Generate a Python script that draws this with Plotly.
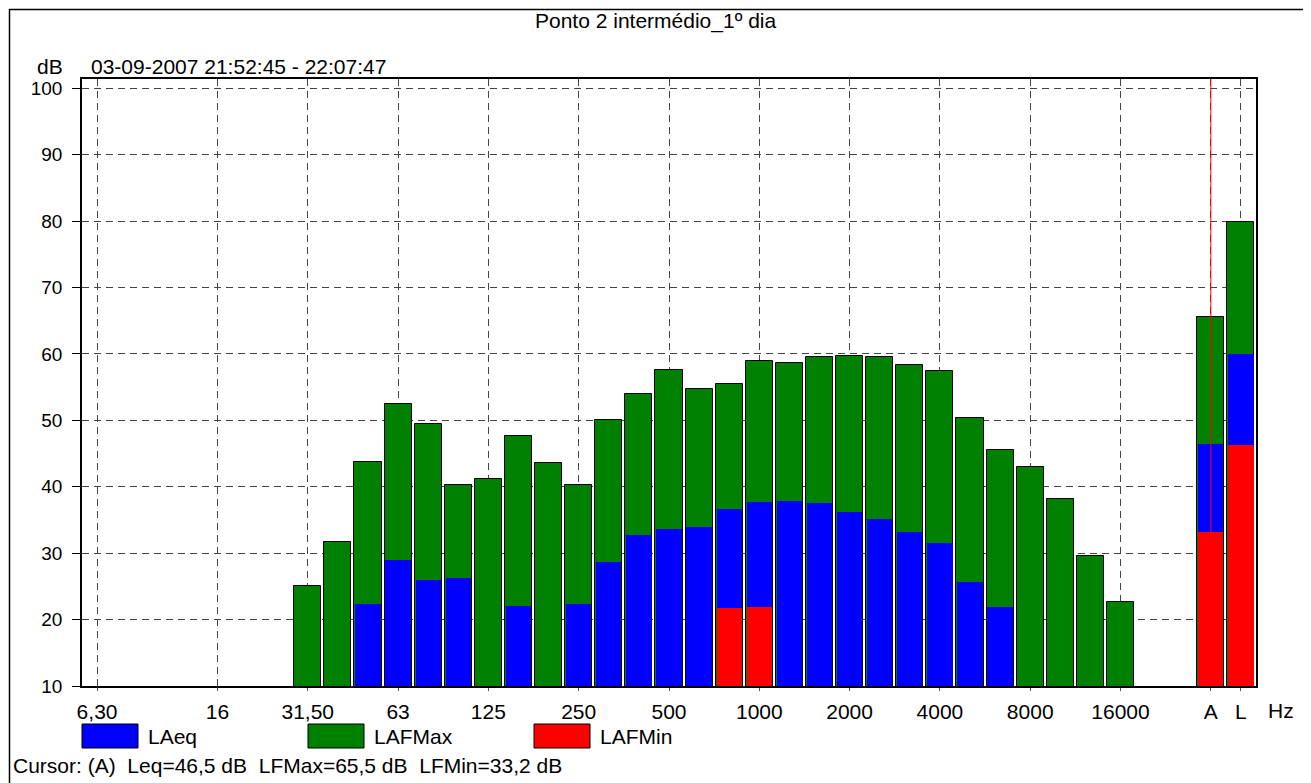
import plotly.graph_objects as go

# 1/3 octave bands (index = position on the axis), then A and L totals
bands = ["6,3", "8", "10", "12,5", "16", "20", "25", "31,5", "40", "50", "63", "80",
         "100", "125", "160", "200", "250", "315", "400", "500", "630", "800", "1000",
         "1250", "1600", "2000", "2500", "3150", "4000", "5000", "6300", "8000",
         "10000", "12500", "16000", "20000", "", "A", "L"]

lafmax = [None, None, None, None, None, None, None, 25.0, 31.7, 43.7, 52.4, 49.4,
          40.2, 41.1, 47.7, 43.6, 40.2, 50.1, 53.9, 57.6, 54.7, 55.5, 58.9,
          58.7, 59.5, 59.7, 59.6, 58.4, 57.5, 50.3, 45.5, 43.0,
          38.1, 29.6, 22.6, None, None, 65.5, 79.8]

laeq = [None, None, None, None, None, None, None, None, None, 22.3, 28.9, 26.0,
        26.2, None, 22.1, None, 22.3, 28.7, 32.7, 33.6, 33.9, 36.6, 37.7,
        37.9, 37.6, 36.2, 35.2, 33.2, 31.5, 25.6, 21.9, None,
        None, None, None, None, None, 46.5, 60.0]

lafmin = [None] * 21 + [21.7, 21.9] + [None] * 14 + [33.2, 46.3]

tick_pos = [0, 4, 7, 10, 13, 16, 19, 22, 25, 28, 31, 34, 37, 38]
tick_text = ["6,30", "16", "31,50", "63", "125", "250", "500", "1000", "2000",
             "4000", "8000", "16000", "A", "L"]

title = "Ponto 2 intermédio_1º dia"
period = "03-09-2007 21:52:45 - 22:07:47"
cursor = "Cursor: (A)  Leq=46,5 dB  LFMax=65,5 dB  LFMin=33,2 dB"

FONT = "Arial, Liberation Sans, sans-serif"
PAGE = 8                      # body margin of the html page
W, H = 1311, 783
L, R, T, B = 82, 1256, 79, 686  # plot area in screen pixels


def px(x):
    return (x - L) / (R - L)


def py(y):
    return (B - y) / (B - T)


x = list(range(len(bands)))

fig = go.Figure()
fig.add_trace(go.Bar(x=x, y=lafmax, width=0.9, name="LAFMax",
                     marker=dict(color="#008000", line=dict(color="black", width=1))))
fig.add_trace(go.Bar(x=x, y=laeq, width=0.84, name="LAeq",
                     marker=dict(color="#0000FF", line=dict(width=0))))
fig.add_trace(go.Bar(x=x, y=lafmin, width=0.84, name="LAFMin",
                     marker=dict(color="#FF0000", line=dict(width=0))))

fig.update_layout(
    width=W - PAGE, height=H - PAGE,
    margin=dict(l=L - PAGE, r=W - R, t=T - PAGE, b=H - B),
    barmode="overlay",
    bargap=0,
    showlegend=False,
    plot_bgcolor="white",
    paper_bgcolor="white",
    font=dict(family=FONT, size=21, color="black"),
)

grid = dict(showgrid=True, gridcolor="#444", gridwidth=1, griddash="7px,5px")
fig.update_xaxes(range=[-0.5, 38.5], tickmode="array", tickvals=tick_pos, ticktext=tick_text,
                 showline=True, linecolor="black", linewidth=1.5, mirror=True,
                 ticks="outside", ticklen=3, tickcolor="#555", ticklabelstandoff=3,
                 tickfont=dict(size=21), zeroline=False, **grid)
fig.update_yaxes(range=[10, 101.4], tickmode="array", tickvals=list(range(10, 101, 10)),
                 showline=True, linecolor="black", linewidth=1.5, mirror=True,
                 ticks="outside", ticklen=8, tickcolor="black", ticklabelstandoff=6,
                 tickfont=dict(size=19), zeroline=False, **grid)

shapes = [
    # cursor on A
    dict(type="line", xref="x", yref="paper", x0=37, x1=37, y0=0, y1=1,
         line=dict(color="red", width=1), layer="above"),
    # outer frame
    dict(type="rect", xref="paper", yref="paper", x0=px(9.5), x1=px(1304), y0=py(795), y1=py(9.5),
         line=dict(color="black", width=1.5)),
]
legend_items = [("LAeq", "#0000FF", 82), ("LAFMax", "#008000", 308), ("LAFMin", "#FF0000", 534)]
annotations = [
    dict(text=title, x=px(655), y=py(21)),
    dict(text="dB", x=px(65), y=py(67), xanchor="right"),
    dict(text=period, x=px(89), y=py(67), xanchor="left"),
    dict(text="Hz", x=px(1266), y=py(710), xanchor="left"),
    dict(text=cursor, x=px(11), y=py(765), xanchor="left"),
]
for name, col, x0 in legend_items:
    shapes.append(dict(type="rect", xref="paper", yref="paper", x0=px(x0), x1=px(x0 + 56),
                       y0=py(748), y1=py(724), fillcolor=col,
                       line=dict(color="black", width=1)))
    annotations.append(dict(text=name, x=px(x0 + 64), y=py(736), xanchor="left"))

for a in annotations:
    a.update(xref="paper", yref="paper", showarrow=False, yanchor="middle",
             font=dict(family=FONT, size=21, color="black"))
    a.setdefault("xanchor", "center")

fig.update_layout(shapes=shapes, annotations=annotations)
fig.write_html("out.html")
